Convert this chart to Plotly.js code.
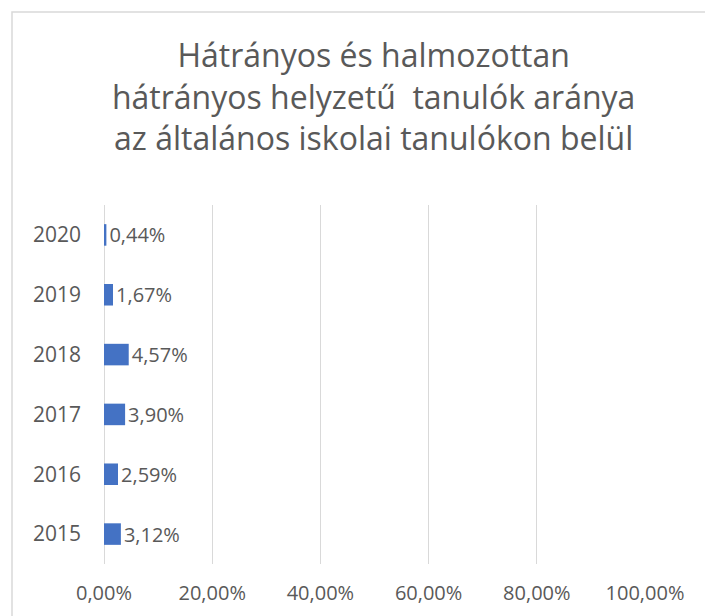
<!DOCTYPE html>
<html>
<head>
<meta charset="utf-8">
<script src="https://cdn.plot.ly/plotly-3.0.1.min.js"></script>
<style>
html,body{margin:0;padding:0;background:#fff;}
#chart{width:705px;height:616px;}
</style>
</head>
<body>
<div id="chart"></div>
<script>
const years = ['2015','2016','2017','2018','2019','2020'];
const shares = [0.0312, 0.0259, 0.0390, 0.0457, 0.0167, 0.0044];
const xTickVals = [0, 0.2, 0.4, 0.6, 0.8, 1.0];
const xTickText = ['0,00%','20,00%','40,00%','60,00%','80,00%','100,00%'];
const titleText = 'Hátrányos és halmozottan<br>hátrányos helyzetű  tanulók aránya<br>az általános iskolai tanulókon belül';

const labels = shares.map(v => (v*100).toFixed(2).replace('.', ',') + '%');

const W = 705, H = 616;
const M = {l:104, r:60, t:205, b:52};
const pw = W - M.l - M.r, ph = H - M.t - M.b;
const px = x => (x - M.l) / pw;
const py = y => (H - M.b - y) / ph;

const font = '"Open Sans", "Noto Sans", sans-serif';

const trace = {
  type: 'bar',
  orientation: 'h',
  y: years,
  x: shares,
  text: labels,
  textposition: 'outside',
  constraintext: 'none',
  cliponaxis: false,
  textfont: {family: font, size: 20, color: '#595959'},
  marker: {color: '#4472C4'},
  width: 0.36,
  hoverinfo: 'skip'
};

const layout = {
  width: W, height: H,
  margin: M,
  paper_bgcolor: '#fff',
  plot_bgcolor: '#fff',
  showlegend: false,
  title: {
    text: titleText,
    font: {family: font, size: 32, color: '#595959'},
    x: 0.53, xanchor: 'center',
    y: 1 - 67/616, yanchor: 'middle'
  },
  xaxis: {
    range: [0, 1.0],
    tickvals: xTickVals,
    ticktext: xTickText,
    showgrid: true,
    gridcolor: '#d9d9d9',
    gridwidth: 1,
    zeroline: true,
    zerolinecolor: '#d9d9d9',
    showline: false,
    ticks: '',
    ticklabelstandoff: 15,
    tickfont: {family: font, size: 20, color: '#595959'},
    fixedrange: true
  },
  yaxis: {
    type: 'category',
    categoryorder: 'array',
    categoryarray: years,
    showgrid: false,
    zeroline: false,
    showline: false,
    ticks: '',
    ticklabelstandoff: 22,
    tickfont: {family: font, size: 21, color: '#595959'},
    fixedrange: true
  },
  shapes: [
    {type: 'path', xref: 'paper', yref: 'paper',
     path: `M ${px(12)} ${py(H+5)} L ${px(12)} ${py(12)} L ${px(W+5)} ${py(12)}`,
     line: {color: '#d9d9d9', width: 1.5}, layer: 'below'}
  ]
};

Plotly.newPlot('chart', [trace], layout, {displayModeBar: false, staticPlot: true});
</script>
</body>
</html>
